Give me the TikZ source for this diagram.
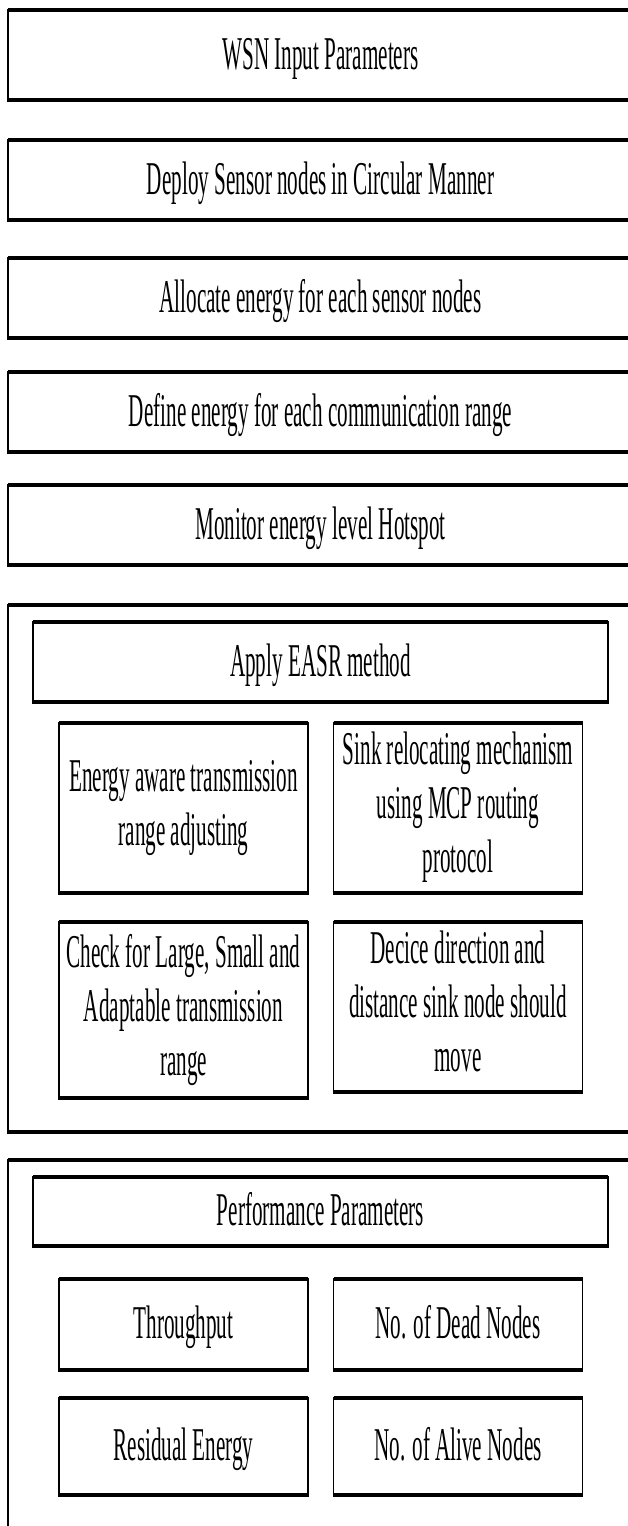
\documentclass[tikz,border=0pt]{standalone}
\usepackage{fontspec}
\newfontfamily\diagfont[FakeStretch=0.45]{Liberation Serif}
\newcommand\dstrut{\rule[-11pt]{0pt}{50pt}}
\begin{document}
\begin{tikzpicture}[x=1pt,y=-1pt,
  frame/.style={draw=black, line width=1.8pt, outer sep=0pt, inner sep=0pt,
    align=center, font=\diagfont\fontsize{47pt}{54pt}\selectfont,
    execute at begin node=\dstrut, execute at end node=\dstrut},
  wide/.style={frame, minimum width=625pt},
  inner/.style={frame, minimum width=575pt},
  half/.style={frame, minimum width=249pt},
  hline/.style={line width=4pt, line cap=butt, shorten <=-0.9pt, shorten >=-0.9pt}]
\useasboundingbox (0,0) rectangle (628,1526);
\clip (0,0) rectangle (628,1526);
\fill[white] (0,0) rectangle (628,1526);
% stacked steps
\node[wide, minimum height=90pt] (b1) at (320.5,55) {WSN Input Parameters};
\node[wide, minimum height=80pt] (b2) at (320.5,180) {Deploy Sensor nodes in Circular Manner};
\node[wide, minimum height=80pt] (b3) at (320.5,298) {Allocate energy for each sensor nodes};
\node[wide, minimum height=80pt] (b4) at (320.5,412) {Define energy for each communication range};
\node[wide, minimum height=80pt] (b5) at (320.5,525) {Monitor energy level Hotspot};
% EASR group
\node[wide, minimum height=527pt] (g1) at (320.5,868.5) {};
\node[inner, minimum height=80pt] (easr) at (320.5,662) {Apply EASR method};
\node[half, minimum height=170pt] (s1) at (183.5,808) {Energy aware transmission\\range adjusting};
\node[half, minimum height=170pt] (s2) at (458,808) {Sink relocating mechanism\\using MCP routing\\protocol};
\node[half, minimum height=176pt] (s3) at (183.5,1010) {Check for Large, Small and\\Adaptable transmission\\range};
\node[half, minimum height=170pt] (s4) at (458,1007) {Decice direction and\\distance sink node should\\move};
% performance group
\node[wide, minimum height=385pt] (g2) at (320.5,1352.5) {};
\node[inner, minimum height=69pt] (perf) at (320.5,1211.5) {Performance Parameters};
\node[half, minimum height=91pt] (p1) at (183.5,1324.5) {Throughput};
\node[half, minimum height=91pt] (p2) at (458,1324.5) {No. of Dead Nodes};
\node[half, minimum height=97pt] (p3) at (183.5,1446.5) {Residual Energy};
\node[half, minimum height=97pt] (p4) at (458,1446.5) {No. of Alive Nodes};
% heavier horizontal edges
\foreach \n in {b1,b2,b3,b4,b5,g1,easr,s1,s2,s3,s4,g2,perf,p1,p2,p3,p4}
  \draw[hline] (\n.north west) -- (\n.north east) (\n.south west) -- (\n.south east);
\end{tikzpicture}
\end{document}
